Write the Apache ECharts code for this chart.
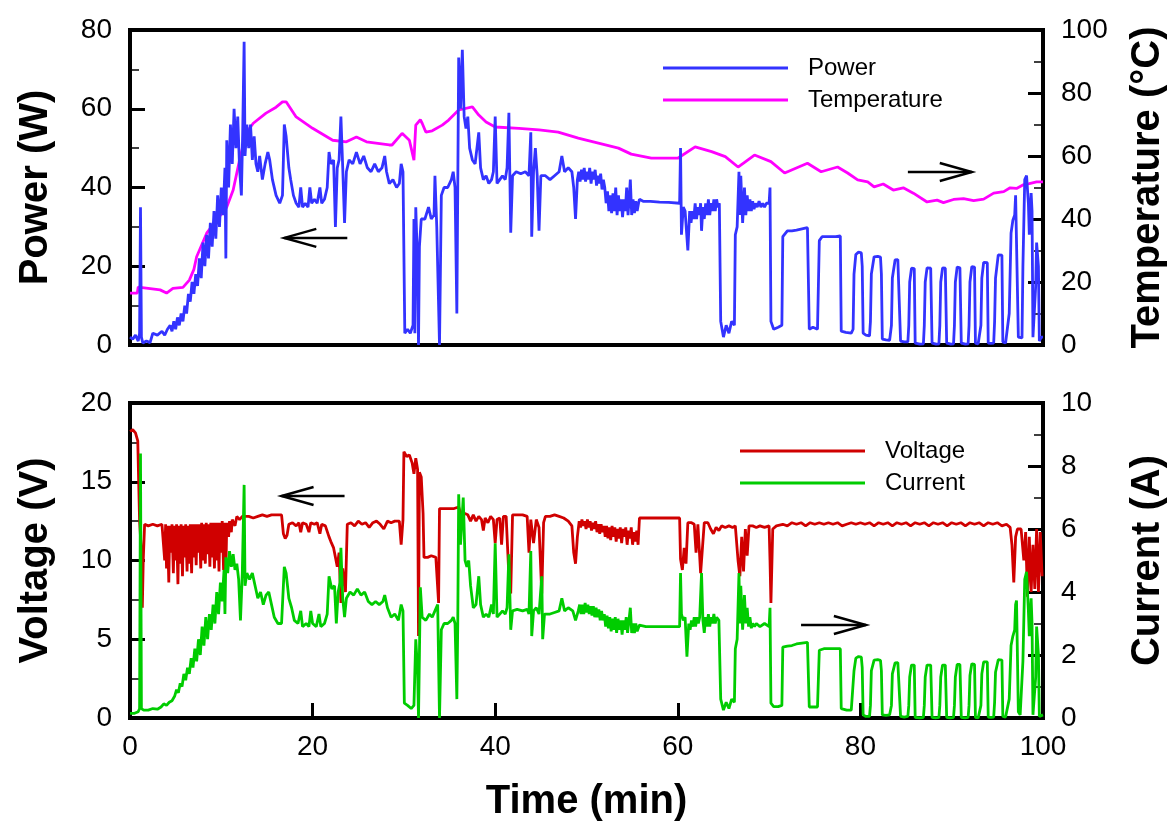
<!DOCTYPE html>
<html>
<head>
<meta charset="utf-8">
<title>Power / Temperature / Voltage / Current</title>
<script src="https://cdn.jsdelivr.net/npm/echarts@6/dist/echarts.min.js"></script>
<style>
	html, body { margin: 0; padding: 0; background: #fff; }
	#chart { width: 1176px; height: 823px; }
</style>
</head>
<body>
<div id="chart"></div>
<script>
// [time (min), value]
var powerData = [[0,2],[0.3,1.5],[0.6,2.5],[0.9,1],[1.05,3],[1.15,35],[1.25,2],[1.4,0.5],[1.8,1],[2.2,0.6],[2.5,3],[3,2.5],[3.5,3.5],[3.8,2.5],[4.1,4],[4.4,5],[4.6,3.5],[4.8,6],[5.0,4],[5.2,7],[5.4,5],[5.6,8],[5.8,6],[6.0,10],[6.2,8],[6.4,13],[6.6,11],[6.8,16],[7.0,13],[7.2,18],[7.4,15],[7.6,22],[7.8,17],[8.0,26],[8.2,20],[8.4,28],[8.6,22],[8.8,31],[9.0,25],[9.2,34],[9.4,27],[9.6,38],[9.8,30],[10.0,40],[10.2,33],[10.4,45],[10.5,22],[10.6,52],[10.8,40],[11.0,56],[11.2,46],[11.4,60],[11.6,50],[11.8,58],[12.0,45],[12.2,38],[12.35,55],[12.5,77],[12.6,48],[12.8,56],[13.0,50],[13.2,56],[13.4,47],[13.6,53],[13.8,46],[14.0,44],[14.2,48],[14.5,42],[14.8,46],[15.1,49],[15.3,47],[15.6,42],[16.0,38],[16.4,36],[16.7,38],[16.9,56],[17.1,53],[17.4,45],[17.6,42],[17.9,38],[18.2,36],[18.5,35],[18.7,40],[18.9,35],[19.2,36],[19.5,35],[19.7,40],[19.9,36],[20.2,37],[20.5,36],[20.8,40],[21.0,36],[21.3,37],[21.6,40],[21.8,49],[22.0,46],[22.3,47],[22.5,30],[22.7,45],[22.9,47],[23.1,58],[23.3,45],[23.5,31],[23.7,44],[24.0,47],[24.4,46],[24.8,49],[25.2,46],[25.6,48],[26.0,45],[26.4,44],[26.8,46],[27.2,44],[27.6,45],[27.9,48],[28.1,44],[28.4,41],[28.8,42],[29.2,40],[29.5,41],[29.7,46],[29.9,44],[30.1,3],[30.4,4],[30.7,3],[31.0,5],[31.1,32],[31.2,3],[31.3,35],[31.5,20],[31.6,0],[31.7,25],[31.9,32],[32.3,32],[32.7,35],[33.0,32],[33.3,33],[33.4,43],[33.6,30],[33.9,0],[34.1,38],[34.4,40],[34.8,40],[35.2,42],[35.4,44],[35.6,40],[35.8,8],[35.9,40],[36.0,73],[36.2,60],[36.4,75],[36.6,58],[36.8,55],[37.0,58],[37.2,50],[37.5,47],[37.8,46],[38.0,50],[38.2,54],[38.4,45],[38.7,42],[39.0,43],[39.3,41],[39.6,42],[39.8,44],[40.0,58],[40.2,41],[40.5,42],[40.8,43],[41.1,42],[41.3,45],[41.5,59],[41.7,28.5],[41.9,43],[42.3,44],[42.8,43.5],[43.3,44],[43.7,43],[43.9,54],[44.0,27.5],[44.2,44],[44.4,50],[44.6,43],[44.8,29],[45.0,43],[45.5,43],[46.0,42],[46.5,43],[47.0,44],[47.3,48],[47.6,44],[48.0,45],[48.4,44],[48.6,40],[48.8,32],
	[49.0,42],[49.15,44],[49.3,41.5],[49.45,44.5],[49.6,42],[49.75,45],[49.9,41.5],[50.05,44],[50.2,42],[50.35,45],[50.5,41],[50.65,44],[50.8,42],[50.95,44.5],[51.1,40.5],[51.25,43],[51.4,41],[51.55,43.5],[51.7,39.5],[51.85,42],[52.0,40],[52.15,36],[52.3,39],[52.45,34],[52.6,38],[52.75,33.5],[52.9,38.5],[53.05,34],[53.2,40],[53.35,33],[53.5,38],[53.65,34],[53.8,37],[53.95,32.5],[54.1,37],[54.25,34],[54.4,40],[54.55,33],[54.7,38],[54.8,42],[54.95,33],[55.1,37],[55.25,33.5],[55.4,36.5],[55.55,34],[55.7,36],[55.8,37],
	[56.2,36.5],[57,36.5],[58,36.3],[59,36.2],[60.2,36],[60.3,50],[60.4,28],[60.6,35],[60.8,34],[61.1,24],
	[61.3,34],[61.45,31],[61.6,34],[61.75,32],[61.9,36],[62.05,32],[62.2,35],[62.35,33],[62.5,36],[62.6,29],[62.75,35],[62.9,32],[63.05,36],[63.2,33],[63.35,37],[63.5,33],[63.65,36],[63.8,34],[63.95,37],[64.1,34],[64.25,37],[64.4,35],[64.55,36],
	[64.7,6],[65.0,2],[65.3,5],[65.6,3],[65.9,6],[66.2,5],[66.3,28],[66.5,30],[66.7,44],[66.8,33],[66.9,43],[67.1,31],
	[67.3,40],[67.45,33],[67.6,38],[67.75,34],[67.9,37],[68.05,34],[68.2,36.5],[68.35,34.5],[68.5,36],[68.7,35],[68.9,36.5],[69.1,35],[69.3,36],[69.5,35],[69.7,36],[70.0,36],
	[70.1,40],[70.2,6],[70.5,4],[71.0,4.5],[71.4,5],[71.5,27.5],[72.0,29],[72.5,29],[73.0,29.2],[73.6,29.5],[74.2,29.8],[74.4,4],[74.8,4.5],[75.3,4],[75.5,26.5],[75.8,27.5],[76.5,27.5],[77.3,27.5],[77.8,27.7],[77.9,3.5],[78.4,3.2],[79.0,3],
	[79.2,4],[79.3,18],[79.5,23],[79.8,23.6],[80.1,23.4],[80.2,20],[80.3,3],[80.6,2.5],[81.0,2.3],
	[81.1,6],[81.2,18],[81.5,22.4],[81.9,22.5],[82.2,22.3],[82.3,18],[82.4,1.5],[82.8,1.3],[83.2,1.2],
	[83.4,5],[83.5,17],[83.8,21.6],[84.1,21.7],[84.3,21.5],[84.4,1],[84.8,0.8],[85.2,0.8],
	[85.3,5],[85.4,16],[85.6,19.5],[85.8,19.6],[85.9,19.4],[86.0,0.5],[86.5,0.2],[86.9,0.3],
	[87.0,5],[87.1,16],[87.3,19.6],[87.5,19.7],[87.7,19.5],[87.85,0.5],[88.3,0.2],[88.6,0.3],
	[88.7,5],[88.8,16],[89.0,19.6],[89.2,19.7],[89.3,19.5],[89.45,0.5],[89.9,0.2],[90.2,0.3],
	[90.3,5],[90.4,16],[90.6,19.8],[90.8,19.9],[90.9,19.6],[91.05,0.5],[91.5,0.2],[91.8,0.3],
	[91.9,5],[92.0,16],[92.2,19.9],[92.4,20],[92.5,19.8],[92.6,0.5],[92.9,0.3],[93.1,0.4],
	[93.2,5],[93.3,17],[93.5,21],[93.7,21.1],[93.9,20.9],[94.0,0.5],[94.3,0.4],[94.6,0.5],
	[94.7,6],[94.8,17],[95.1,22.9],[95.3,23],[95.5,22.8],[95.6,0.8],[95.9,0.5],[96.1,0.6],
	[96.3,8],[96.5,28.4],[96.7,31.7],[96.9,33],[97.0,38],[97.1,38.5],[97.3,2],[97.5,1.5],[97.7,1.8],
	[97.8,20],[98.0,42],[98.2,43],[98.4,36],[98.5,28],[98.7,38.6],[98.8,34],[98.9,2],[99.1,1.5],[99.2,15],[99.3,26],[99.5,20],[99.6,1],[99.8,2],[100,2]];

var tempData = [[0,16.5],[0.8,16.5],[0.9,18.4],[2,18],[3.3,17.5],[4,16.5],[4.7,18],[5.8,18.3],[6.5,20.6],[7.0,24],[7.3,28],[8.4,35.5],[9.5,39.7],[10.6,43.8],[11.3,49.2],[12,58.7],[12.7,67.2],[13.5,70.4],[14.9,73.6],[16.0,75.5],[16.7,77.2],[17.1,77.2],[18.2,72.4],[20,68.8],[22.2,65],[23.7,64.5],[24.8,66],[25.9,64.5],[28.4,63.5],[28.7,63.5],[29.8,67.2],[30.6,65],[31.1,58.7],[31.3,69.8],[31.8,71.5],[32,70.4],[32.4,67.6],[33.1,68],[34.2,69.8],[34.9,71.4],[36,74.6],[37.5,75.6],[38.2,73],[39,70.8],[40,69.2],[42.6,68.8],[44.8,68.3],[46.9,67.6],[49.1,65.7],[51.3,64.1],[53.5,62.5],[54.9,60.6],[57.1,59.3],[60,59.3],[61.9,62.9],[63.7,61.4],[65.2,59.8],[66.6,56.5],[68.4,60.3],[70.2,58.2],[71.7,54.6],[74.2,57.7],[75.7,55],[77.5,56.5],[78.6,54.6],[79.7,52.4],[80.8,51.8],[81.5,50.2],[82.5,51.1],[83.6,49.2],[84.7,49.9],[85.8,48.2],[87.3,45.4],[88.4,46],[89.1,45.2],[90.2,46.2],[91.3,46.5],[92.4,45.8],[93.5,46.3],[94.6,48.2],[95.7,48.7],[96.4,49.9],[97.1,49.7],[97.8,50.8],[98.5,51.2],[99.3,51.8],[100,51.8]];

var voltData = [[0,18.2],[0.3,18.3],[0.6,18.1],[0.85,17.6],[0.95,15],[1.05,12.5],[1.2,11],[1.35,7],[1.45,10],[1.6,12.3],[2,12.2],[2.5,12.3],[3,12.2],[3.5,12.3],[3.7,12.2],[3.8,10],[3.9,12.3],[4.0,9.5],[4.1,12.2],[4.25,8.6],[4.35,12.2],[4.5,10.5],[4.6,12.3],[4.75,9.2],[4.85,12.2],[5.0,10],[5.1,12.3],[5.25,8.5],[5.35,12.2],[5.5,9.8],[5.6,12.3],[5.75,9],[5.85,12.2],[6.0,10.2],[6.1,12.3],[6.25,9.3],[6.35,12.2],[6.5,9.8],[6.6,12.3],[6.75,9.2],[6.85,12.3],[7.0,10.2],[7.1,12.3],[7.25,9.7],[7.35,12.3],[7.5,10.5],[7.6,12.3],[7.75,9.5],[7.85,12.4],[8.0,10],[8.1,12.3],[8.25,9.8],[8.35,12.4],[8.5,10.4],[8.6,12.3],[8.75,9.6],[8.85,12.4],[9.0,10.2],[9.1,12.4],[9.25,9.5],[9.35,12.4],[9.5,10],[9.6,12.4],[9.75,9.3],[9.85,12.4],[10.0,10.5],[10.1,12.5],[10.25,9.4],[10.35,12.4],[10.5,9.3],[10.6,12.4],[10.8,11.5],[10.9,12.5],[11.1,11.8],[11.2,12.6],[11.5,12.2],[11.7,12.8],[12,12.6],[12.3,12.8],[13,12.8],[13.5,12.7],[14,12.8],[14.5,12.9],[15,12.8],[15.5,12.9],[16,12.9],[16.6,12.9],[16.8,11.7],[17.0,11.4],[17.2,11.6],[17.4,12.3],[17.8,12.4],[18.2,12.2],[18.5,12.4],[18.7,11.8],[18.9,12.4],[19.3,12.3],[19.6,11.8],[19.8,12.4],[20.2,12.3],[20.5,12.4],[20.8,11.7],[21.0,12.3],[21.4,12.2],[21.8,11.5],[22.0,11.2],[22.3,10.8],[22.5,10.2],[22.7,9.6],[22.9,10.5],[23.1,7.3],[23.3,9.5],[23.6,8],[23.8,12.3],[24.2,12.4],[24.6,12.2],[25,12.5],[25.4,12.3],[25.8,12.4],[26.2,12.1],[26.6,12.4],[27,12.5],[27.4,12.3],[27.8,12],[28.2,12.5],[28.6,12.4],[29,12.5],[29.5,12.5],[29.7,11],[29.9,12.6],[30.0,16.9],[30.3,16.6],[30.6,16.7],[30.9,16.2],[31.1,15.5],[31.3,16.5],[31.5,15.8],[31.6,5.2],[31.7,15.6],[31.9,15.3],[32.1,13],[32.2,10.2],[32.6,10.2],[33,10.3],[33.5,10.2],[33.8,7.3],[33.9,13.3],[34.5,13.3],[35,13.3],[35.5,13.3],[36,13.4],[36.3,12.8],[36.6,13.0],[37,12.9],[37.3,12.5],[37.6,12.9],[37.9,12.5],[38.2,12.8],[38.5,12.6],[38.7,11.9],[38.9,12.7],[39.2,12.4],[39.5,12.8],[39.8,12.6],[40.0,11.1],[40.2,12.6],[40.5,12.7],[40.7,11],[40.9,12.8],[41.2,12.8],[41.5,9],[41.7,7.9],[41.9,12.9],[42.4,12.9],[43,12.9],[43.5,12.8],[43.7,10.5],[43.9,12.6],[44.2,11.1],[44.5,12.6],[44.8,12.1],[45.1,7.9],[45.3,12.4],[45.5,12.8],[46,12.8],[46.5,12.9],[47,12.8],[47.5,12.7],[48,12.5],[48.4,12.2],[48.6,10.5],[48.8,9.8],[49,11.5],
	[49.2,12.5],[49.35,12.1],[49.5,12.6],[49.65,12.2],[49.8,12.5],[49.95,12.0],[50.1,12.6],[50.25,12.1],[50.4,12.5],[50.55,11.9],[50.7,12.4],[50.85,12.0],[51.0,12.5],[51.15,11.8],[51.3,12.3],[51.45,11.7],[51.6,12.3],[51.75,11.8],[51.9,12.2],[52.05,11.5],[52.2,12.2],[52.35,11.4],[52.5,12.1],[52.65,11.3],[52.8,12.2],[52.95,11.5],[53.1,12.1],[53.25,11.2],[53.4,12.0],[53.55,11.4],[53.7,12.1],[53.85,11.1],[54.0,12.0],[54.15,11.5],[54.3,12.1],[54.45,11.0],[54.6,11.9],[54.75,11.4],[54.9,12.1],[55.05,11.0],[55.2,11.8],[55.35,11.2],[55.5,11.9],[55.65,11.0],
	[55.8,12.7],[56.5,12.7],[57.5,12.7],[58.5,12.7],[59.5,12.7],[60.2,12.7],[60.3,10.1],[60.5,9.4],[60.7,10.8],[60.9,9.8],[61.1,12.4],[61.5,12.4],[61.8,12.3],[62.0,10.5],[62.2,12.3],[62.5,9.2],[62.7,9.1],[62.9,12.4],[63.3,12.4],[63.6,12],[63.9,11.7],[64.2,12.1],[64.5,11.9],[64.8,12.2],[65.2,12.1],[65.6,12.2],[66,12.1],[66.3,12.2],[66.6,10],[66.8,9],[67.0,11.5],[67.2,9.3],[67.4,12],[67.6,10.3],[67.8,12.2],[68.2,12.2],[68.6,12.1],[69,12.2],[69.5,12.1],[70,12.2],[70.1,10],[70.2,7.3],[70.4,12],[70.8,12.2],[71.5,12.3],[72,12.2],[72.5,12.4],[73,12.3],[73.5,12.4],[74,12.2],[74.5,12.4],[75,12.3],[75.5,12.4],[76,12.3],[76.5,12.4],[77,12.3],[77.5,12.4],[78,12.2],[78.5,12.3],[79,12.4],[79.5,12.3],[80,12.4],[80.5,12.3],[81,12.4],[81.5,12.2],[82,12.4],[82.5,12.3],[83,12.4],[83.5,12.2],[84,12.4],[84.5,12.3],[85,12.4],[85.5,12.2],[86,12.4],[86.5,12.3],[87,12.4],[87.5,12.2],[88,12.4],[88.5,12.3],[89,12.4],[89.5,12.2],[90,12.4],[90.5,12.3],[91,12.4],[91.5,12.2],[92,12.4],[92.5,12.3],[93,12.4],[93.5,12.2],[94,12.4],[94.5,12.3],[95,12.4],[95.5,12.2],[96,12.3],[96.4,12.1],[96.6,11],[96.8,8.6],[97.0,11.5],[97.2,12],[97.6,12],[97.9,10],[98.1,11.8],[98.3,7.7],[98.5,11.5],[98.7,8],[98.9,11],[99.1,8.2],[99.3,12],[99.5,8],[99.7,11.8],[99.9,9]];

var currData = [[0,0.15],[0.5,0.15],[0.9,0.2],[1.05,0.3],[1.15,8.4],[1.25,0.3],[1.5,0.25],[2,0.25],[2.5,0.3],[3,0.28],[3.4,0.35],[3.7,0.45],[4.0,0.4],[4.3,0.5],[4.6,0.55],[4.9,0.7],[5.1,0.9],[5.3,0.8],[5.5,1.1],[5.7,1.0],[5.9,1.4],[6.1,1.2],[6.3,1.6],[6.5,1.4],[6.7,1.9],[6.9,1.6],[7.1,2.2],[7.3,1.8],[7.5,2.5],[7.7,2.0],[7.9,2.9],[8.1,2.3],[8.3,3.2],[8.5,2.5],[8.7,3.3],[8.9,2.8],[9.1,3.6],[9.3,3.0],[9.5,4.0],[9.7,3.3],[9.9,4.3],[10.1,3.7],[10.3,4.7],[10.4,3.3],[10.5,5.1],[10.7,4.6],[10.9,5.3],[11.1,4.8],[11.3,5.2],[11.5,4.7],[11.7,4.9],[11.9,4.4],[12.1,3.1],[12.3,4.6],[12.5,7.4],[12.6,4.2],[12.8,4.6],[13.1,4.4],[13.4,4.6],[13.7,4.2],[14.0,3.8],[14.3,4.0],[14.6,3.6],[14.9,3.9],[15.2,4.0],[15.5,3.6],[15.8,3.2],[16.2,3.0],[16.6,3.0],[16.9,4.8],[17.1,4.6],[17.4,3.8],[17.7,3.5],[18.0,3.1],[18.4,3.0],[18.7,3.4],[18.9,2.9],[19.3,3.0],[19.6,2.9],[19.8,3.4],[20.0,3.0],[20.4,2.9],[20.7,3.3],[20.9,2.9],[21.3,3.0],[21.6,3.3],[21.8,4.5],[22.1,4.1],[22.4,4.2],[22.6,3.0],[22.8,4.0],[23.0,4.3],[23.1,5.4],[23.3,3.8],[23.5,3.2],[23.7,3.8],[24.1,4.0],[24.5,3.9],[24.9,4.1],[25.3,3.9],[25.7,4.0],[26.1,3.7],[26.5,3.6],[26.9,3.7],[27.3,3.6],[27.7,3.7],[27.9,3.9],[28.2,3.5],[28.6,3.2],[29.0,3.3],[29.4,3.1],[29.7,3.6],[29.9,3.4],[30.05,0.47],[30.4,0.4],[30.8,0.3],[31.1,0.4],[31.3,2.5],[31.5,1.5],[31.6,0],[31.7,2.0],[31.8,4.15],[32.0,3.2],[32.4,3.1],[32.8,3.3],[33.1,3.2],[33.4,3.4],[33.7,3.6],[33.9,0],[34.1,2.8],[34.4,3.0],[34.8,3.0],[35.2,3.1],[35.4,3.2],[35.6,3.0],[35.8,0.6],[35.9,3.0],[36.0,7.1],[36.2,5.5],[36.5,7.0],[36.7,5.0],[36.9,4.8],[37.1,5.0],[37.3,4.2],[37.6,3.5],[37.9,3.6],[38.2,4.5],[38.4,3.6],[38.7,3.2],[39.0,3.3],[39.3,3.2],[39.6,3.6],[39.8,3.3],[40.0,5.55],[40.2,3.2],[40.5,3.3],[40.8,3.4],[41.1,3.3],[41.3,3.5],[41.5,5.2],[41.7,2.8],[41.9,3.4],[42.4,3.45],[43,3.4],[43.5,3.45],[43.7,3.3],[43.9,5.3],[44.0,2.6],[44.2,3.4],[44.5,3.5],[44.8,3.3],[45.1,4.5],[45.2,2.5],[45.4,3.3],[46,3.3],[46.5,3.35],[47,3.4],[47.3,3.8],[47.6,3.4],[48,3.5],[48.5,3.4],[48.8,3.1],
	[49.1,3.4],[49.25,3.6],[49.4,3.3],[49.55,3.6],[49.7,3.3],[49.85,3.65],[50.0,3.35],[50.15,3.6],[50.3,3.3],[50.45,3.55],[50.6,3.25],[50.75,3.55],[50.9,3.2],[51.05,3.5],[51.2,3.2],[51.35,3.45],[51.5,3.1],[51.65,3.4],[51.8,3.1],[51.95,3.3],[52.1,2.9],[52.25,3.25],[52.4,2.85],[52.55,3.2],[52.7,2.75],[52.85,3.15],[53.0,2.8],[53.15,3.2],[53.3,2.7],[53.45,3.15],[53.6,2.8],[53.75,3.1],[53.9,2.65],[54.05,3.1],[54.2,2.8],[54.35,3.2],[54.5,2.7],[54.65,3.1],[54.8,3.5],[54.95,2.7],[55.1,3.0],[55.25,2.7],[55.4,3.0],[55.55,2.75],
	[55.8,2.95],[56.5,2.9],[57.5,2.9],[58.5,2.9],[59.5,2.9],[60.2,2.9],[60.3,4.6],[60.4,3.3],[60.6,3.1],[60.8,3.2],[61.0,1.95],
	[61.2,3.0],[61.35,2.8],[61.5,3.1],[61.65,2.9],[61.8,3.2],[61.95,2.9],[62.1,3.2],[62.25,3.0],[62.4,3.2],[62.6,4.6],[62.75,3.1],[62.9,2.7],[63.05,3.2],[63.2,2.9],[63.35,3.3],[63.5,2.9],[63.65,3.2],[63.8,3.0],[63.95,3.3],[64.1,3.0],[64.25,3.2],[64.5,3.1],
	[64.7,0.6],[65.0,0.25],[65.3,0.5],[65.6,0.3],[65.9,0.6],[66.2,0.5],[66.3,2.2],[66.5,2.5],[66.7,4.6],[66.8,3.0],[66.9,4.2],[67.1,2.8],[67.3,3.9],[67.45,3.0],[67.6,3.5],[67.75,2.9],[67.9,3.2],[68.05,2.85],[68.2,3.0],[68.4,2.9],[68.6,3.0],[69,2.9],[69.5,3.0],[70.0,2.9],[70.1,3.5],[70.2,0.47],[70.5,0.36],[71.0,0.36],[71.4,0.4],[71.5,2.25],[72,2.28],[72.5,2.3],[73,2.35],[73.6,2.38],[74.2,2.4],[74.4,0.35],[74.8,0.35],[75.3,0.35],[75.5,2.15],[76,2.2],[76.8,2.2],[77.4,2.2],[77.8,2.2],[77.9,0.3],[78.5,0.25],[79.0,0.25],
	[79.2,0.3],[79.3,1.5],[79.5,1.9],[79.8,1.95],[80.1,1.93],[80.2,1.6],[80.3,0.1],[80.6,0.05],[81.0,0.05],
	[81.1,0.4],[81.2,1.5],[81.5,1.84],[81.9,1.85],[82.2,1.83],[82.3,1.5],[82.4,0.1],[82.8,0.08],[83.2,0.1],
	[83.4,0.4],[83.5,1.4],[83.8,1.75],[84.1,1.76],[84.3,1.74],[84.4,0.05],[84.8,0.03],[85.2,0.05],
	[85.3,0.4],[85.4,1.3],[85.6,1.68],[85.8,1.7],[85.9,1.68],[86.0,0.02],[86.5,0],[86.9,0.02],
	[87.0,0.4],[87.1,1.3],[87.3,1.68],[87.5,1.7],[87.7,1.68],[87.85,0.02],[88.3,0],[88.6,0.02],
	[88.7,0.4],[88.8,1.3],[89.0,1.68],[89.2,1.7],[89.3,1.68],[89.45,0.02],[89.9,0],[90.2,0.02],
	[90.3,0.4],[90.4,1.3],[90.6,1.7],[90.8,1.72],[90.9,1.7],[91.05,0.02],[91.5,0],[91.8,0.02],
	[91.9,0.4],[92.0,1.35],[92.2,1.72],[92.4,1.73],[92.5,1.7],[92.6,0.02],[92.9,0],[93.1,0.02],
	[93.2,0.4],[93.3,1.4],[93.5,1.78],[93.7,1.8],[93.9,1.78],[94.0,0.03],[94.3,0.02],[94.6,0.03],
	[94.7,0.5],[94.8,1.45],[95.1,1.85],[95.3,1.86],[95.5,1.84],[95.6,0.05],[95.9,0.03],[96.1,0.05],
	[96.3,0.6],[96.5,2.3],[96.7,2.6],[96.9,2.8],[97.0,3.6],[97.1,3.73],[97.3,0.2],[97.5,0.1],[97.7,0.15],
	[97.8,1.8],[98.0,4.4],[98.2,4.64],[98.4,3.4],[98.5,2.6],[98.7,3.8],[98.8,3.0],[98.9,0.1],[99.1,0.05],[99.2,1.3],[99.3,2.9],[99.5,2.0],[99.6,0.05],[99.8,0.1],[100,0.1]];

// arrows: [seriesIndex, tail time, tip time, value on that series' axis]
var arrows = [
	[1, 23.8, 16.9, 27.2],
	[0, 85.2, 92.2, 54.9],
	[2, 23.5, 16.6, 14.1],
	[3, 73.5, 80.6, 2.95]
];

var font = 'Liberation Sans, Arial, sans-serif';

function yAxisOf(grid, pos, max, step, name) {
	return {
		type : 'value',
		gridIndex : grid,
		position : pos,
		min : 0,
		max : max,
		interval : step,
		name : name,
		nameLocation : 'middle',
		nameRotate : 90,
		nameGap : pos === 'left' ? 74 : 85,
		nameTextStyle : { fontSize : 40, fontWeight : 'bold', color : '#000', fontFamily : font },
		axisLine : { show : false },
		axisTick : { inside : true, length : 15, lineStyle : { color : '#000', width : 3 } },
		minorTick : { show : true, splitNumber : 2, length : 9, lineStyle : { color : '#000', width : 1.5 } },
		axisLabel : { fontSize : 28, color : '#000', margin : 18, fontFamily : font },
		splitLine : { show : false }
	};
}

function legendOf(names, left, top) {
	return {
		data : names,
		left : left,
		top : top,
		padding : 0,
		orient : 'vertical',
		icon : 'rect',
		itemWidth : 125,
		itemHeight : 3,
		itemGap : 8,
		selectedMode : false,
		textStyle : { fontSize : 24, lineHeight : 24, color : '#000', fontFamily : font, padding : [0, 0, 0, 15] }
	};
}

function lineOf(name, xi, yi, data, color) {
	return {
		name : name,
		type : 'line',
		xAxisIndex : xi,
		yAxisIndex : yi,
		data : data,
		color : color,
		showSymbol : false,
		symbol : 'none',
		lineStyle : { color : color, width : 2.8 }
	};
}

function createChart() {
	var myChart = echarts.init(document.getElementById('chart'));

	var option = {
		animation : false,
		backgroundColor : '#fff',
		textStyle : { fontFamily : font },
		grid : [
			{ left : 130, top : 30, width : 916, height : 315, show : true, borderColor : '#000', borderWidth : 4 },
			{ left : 130, top : 403, width : 916, height : 315, show : true, borderColor : '#000', borderWidth : 4 }
		],
		legend : [
			legendOf([ 'Power', 'Temperature' ], 663, 56),
			legendOf([ 'Voltage', 'Current' ], 740, 439)
		],
		xAxis : [ {
			type : 'value',
			gridIndex : 0,
			min : 0,
			max : 100,
			interval : 20,
			axisLine : { show : false },
			axisTick : { show : false },
			axisLabel : { show : false },
			splitLine : { show : false }
		}, {
			type : 'value',
			gridIndex : 1,
			min : 0,
			max : 100,
			interval : 20,
			name : 'Time (min)',
			nameLocation : 'middle',
			nameGap : 64,
			nameTextStyle : { fontSize : 40, fontWeight : 'bold', color : '#000', fontFamily : font },
			axisLine : { show : false },
			axisTick : { inside : true, length : 15, lineStyle : { color : '#000', width : 3 } },
			axisLabel : { fontSize : 28, color : '#000', margin : 15, fontFamily : font },
			splitLine : { show : false }
		} ],
		yAxis : [
			yAxisOf(0, 'left', 80, 20, 'Power (W)'),
			yAxisOf(0, 'right', 100, 20, 'Temperature (°C)'),
			yAxisOf(1, 'left', 20, 5, 'Voltage (V)'),
			yAxisOf(1, 'right', 10, 2, 'Current (A)')
		],
		series : [
			lineOf('Temperature', 0, 1, tempData, '#ff00ff'),
			lineOf('Power', 0, 0, powerData, '#3333ff'),
			lineOf('Voltage', 1, 2, voltData, '#d00000'),
			lineOf('Current', 1, 3, currData, '#00cc00')
		]
	};

	myChart.setOption(option);

	// 箭头按坐标换算成像素
	var graphics = [];
	arrows.forEach(function(a) {
		var tail = myChart.convertToPixel({ seriesIndex : a[0] }, [ a[1], a[3] ]);
		var tip = myChart.convertToPixel({ seriesIndex : a[0] }, [ a[2], a[3] ]);
		var dir = tail[0] > tip[0] ? 1 : -1;
		graphics.push({
			type : 'polyline',
			shape : { points : [ tail, tip ] },
			style : { stroke : '#000', lineWidth : 2.5, fill : null },
			z : 100
		});
		graphics.push({
			type : 'polyline',
			shape : { points : [ [ tip[0] + dir * 32, tip[1] - 9 ], tip, [ tip[0] + dir * 32, tip[1] + 9 ] ] },
			style : { stroke : '#000', lineWidth : 2.5, fill : null },
			z : 100
		});
	});
	myChart.setOption({ graphic : graphics });
}

createChart();
</script>
</body>
</html>
